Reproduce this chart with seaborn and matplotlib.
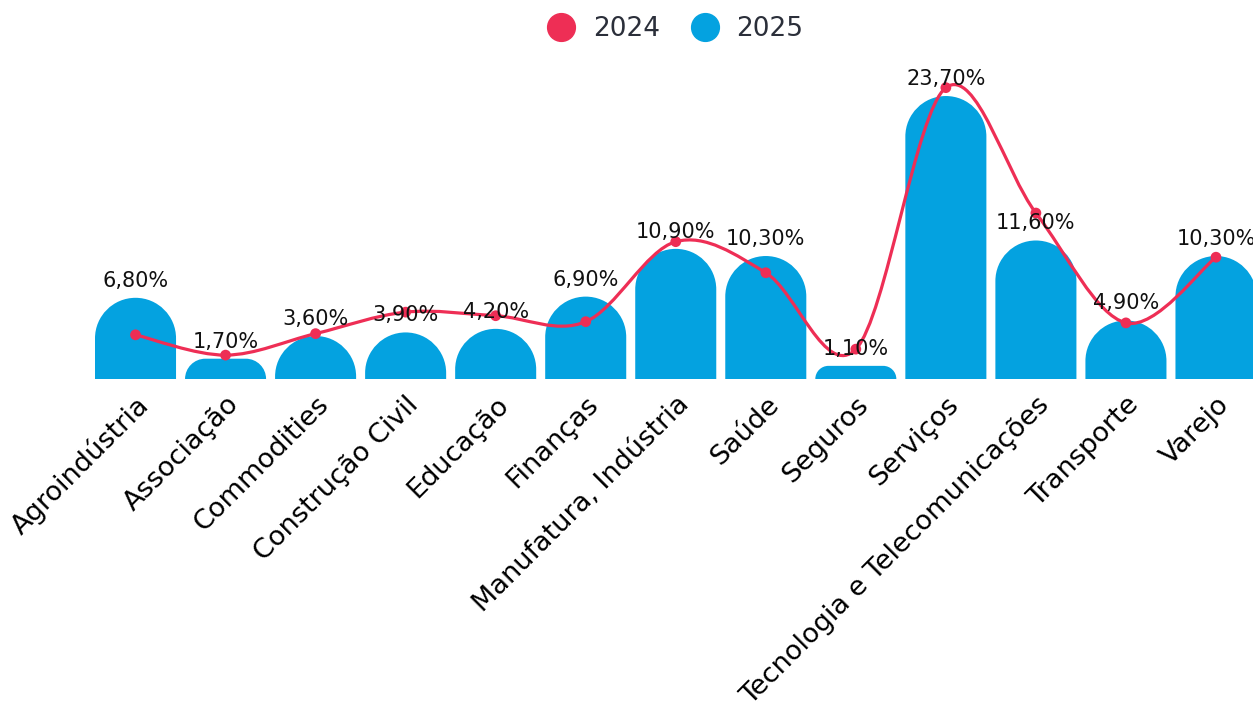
import numpy as np
import pandas as pd
import matplotlib
matplotlib.use("Agg")
import matplotlib.pyplot as plt
import seaborn as sns
from matplotlib.path import Path
from matplotlib.patches import PathPatch
from matplotlib.lines import Line2D

categories = ["Agroindústria", "Associação", "Commodities", "Construção Civil",
              "Educação", "Finanças", "Manufatura, Indústria", "Saúde", "Seguros",
              "Serviços", "Tecnologia e Telecomunicações", "Transporte", "Varejo"]
vals_2025 = [6.8, 1.7, 3.6, 3.9, 4.2, 6.9, 10.9, 10.3, 1.1, 23.7, 11.6, 4.9, 10.3]
vals_2024 = [3.7, 2.0, 3.8, 5.6, 5.3, 4.8, 11.5, 8.9, 2.5, 24.4, 13.9, 4.7, 10.2]

RED = "#EE2E55"
BLUE = "#04A2E0"


def round_top(ax, patch, sx, sy):
    # swap a plain bar for one with rounded upper corners
    x0 = patch.get_x()
    w = patch.get_width()
    h = patch.get_height()
    x1 = x0 + w
    r = min(w * sx / 2, h * sy)
    rx, ry = r / sx, r / sy
    k = 0.5523
    verts = [(x0, 0), (x0, h - ry),
             (x0, h - ry + k * ry), (x0 + rx - k * rx, h), (x0 + rx, h),
             (x1 - rx, h),
             (x1 - rx + k * rx, h), (x1, h - ry + k * ry), (x1, h - ry),
             (x1, 0), (x0, 0)]
    codes = [Path.MOVETO, Path.LINETO,
             Path.CURVE4, Path.CURVE4, Path.CURVE4,
             Path.LINETO,
             Path.CURVE4, Path.CURVE4, Path.CURVE4,
             Path.LINETO, Path.CLOSEPOLY]
    ax.add_patch(PathPatch(Path(verts, codes), facecolor=patch.get_facecolor(),
                           edgecolor="none", zorder=2))
    patch.set_visible(False)


def smooth_path(xs, ys):
    pts = np.column_stack([xs, ys]).astype(float)
    n = len(pts)
    verts = [pts[0]]
    codes = [Path.MOVETO]
    for i in range(n - 1):
        p0 = pts[max(i - 1, 0)]
        p1 = pts[i]
        p2 = pts[i + 1]
        p3 = pts[min(i + 2, n - 1)]
        verts += [p1 + (p2 - p0) / 6, p2 - (p3 - p1) / 6, p2]
        codes += [Path.CURVE4] * 3
    return Path(verts, codes)


df = pd.DataFrame({"setor": categories, "v2025": vals_2025, "v2024": vals_2024})

sns.set_style("white")
plt.rcParams["font.family"] = ["DejaVu Sans"]

fig = plt.figure(figsize=(12.53, 7.09), dpi=100)
ax = fig.add_axes([90.5 / 1253, 1 - 379 / 709, 1170.5 / 1253, 25 * 11.94 / 709])

sns.barplot(data=df, x="setor", y="v2025", color=BLUE, width=0.9, saturation=1, ax=ax)
ax.set_xlim(-0.5, 12.5)
ax.set_ylim(0, 25)

p = ax.transData.transform([(0, 0), (1, 1)])
sx, sy = p[1, 0] - p[0, 0], p[1, 1] - p[0, 1]
for patch in list(ax.patches):
    round_top(ax, patch, sx, sy)

for i, v in enumerate(vals_2025):
    ax.annotate(f"{v:.2f}%".replace(".", ","), (i, v), xytext=(0, 17),
                textcoords="offset pixels", ha="center", va="center",
                fontsize=15, color="#111111", zorder=5)

xs = np.arange(len(categories))
ax.add_patch(PathPatch(smooth_path(xs, vals_2024), facecolor="none", edgecolor=RED,
                       lw=2.3, zorder=4, clip_on=False))
sns.scatterplot(x=xs, y=vals_2024, color=RED, s=60, edgecolor="none", zorder=4,
                ax=ax, clip_on=False)

ax.set_xticks(xs)
ax.set_xticklabels(categories, rotation=45, ha="right", rotation_mode="anchor",
                   fontsize=19.5, color="#000000")
ax.tick_params(axis="x", length=0, pad=9)
ax.set_yticks([])
ax.set_xlabel("")
ax.set_ylabel("")
for s in ax.spines.values():
    s.set_visible(False)

handles = [Line2D([], [], marker="o", ls="none", color=RED, markersize=20),
           Line2D([], [], marker="o", ls="none", color=BLUE, markersize=20)]
fig.legend(handles, ["2024", "2025"], loc="center", bbox_to_anchor=(669 / 1253, 1 - 29 / 709),
           ncol=2, frameon=False, fontsize=19, handletextpad=0.2, columnspacing=0.7,
           labelcolor="#2B2F3A")

fig.savefig("out.png", dpi=100)
